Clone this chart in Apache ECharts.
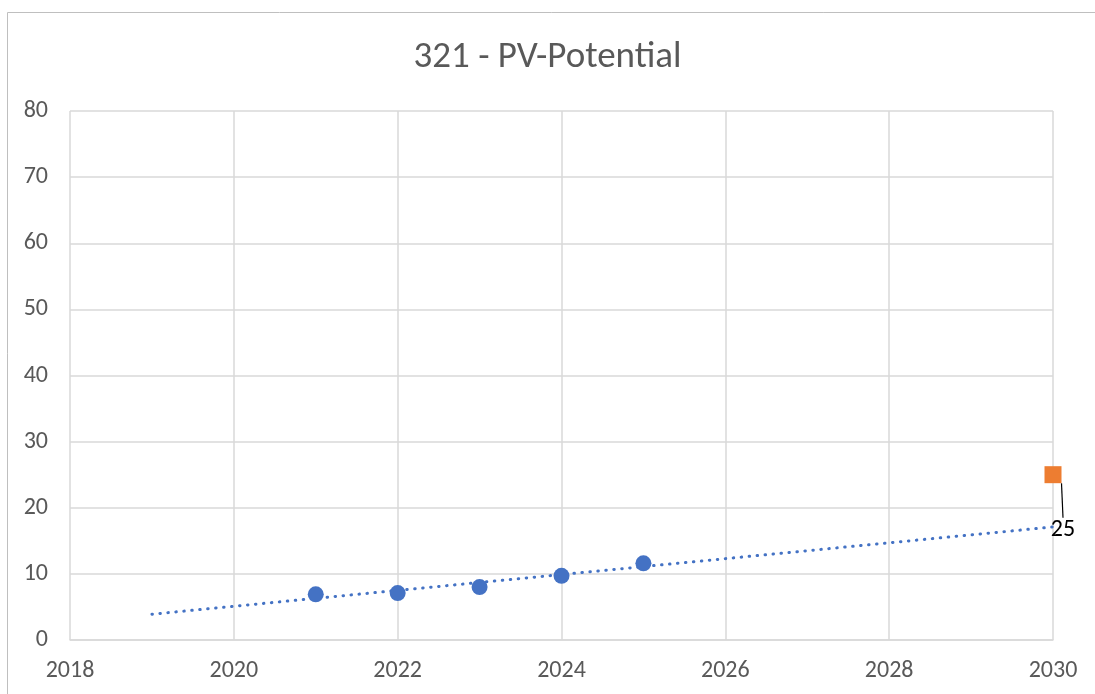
<!DOCTYPE html>
<html>
<head>
<meta charset="utf-8">
<script src="https://cdn.jsdelivr.net/npm/echarts@6/dist/echarts.min.js"></script>
<style>
  html, body { margin: 0; padding: 0; background: #fff; }
  #main { width: 1095px; height: 694px; }
</style>
</head>
<body>
<div id="main"></div>
<script>
// values
const years = [2021, 2022, 2023, 2024, 2025];
const potential = [6.9, 7.1, 8.0, 9.7, 11.6];
const targetYear = [2030];
const targetValue = [25];
// trend line end points
const trendYears = [2019, 2030];
const trendValues = [3.9, 17.1];

const font = 'Calibri, Carlito, "Open Sans", sans-serif';

const chart = echarts.init(document.getElementById('main'));

const option = {
  animation: false,
  textStyle: { fontFamily: font },
  title: {
    text: '321 - PV-Potential',
    left: 'center',
    top: 34,
    textStyle: { fontSize: 37, fontWeight: 'normal', color: '#595959', fontFamily: font }
  },
  graphic: [{
    type: 'rect',
    shape: { x: 7.5, y: 12.5, width: 1100, height: 700 },
    style: { fill: 'none', stroke: '#bfbfbf', lineWidth: 1 },
    silent: true
  }],
  grid: { left: 70, right: 42, top: 111, bottom: 54, containLabel: false },
  xAxis: {
    type: 'value',
    min: 2018,
    max: 2030,
    interval: 2,
    axisLine: { show: true, lineStyle: { color: '#d9d9d9', width: 1.5 } },
    axisTick: { show: false },
    splitLine: { show: true, lineStyle: { color: '#d9d9d9', width: 1.5 } },
    axisLabel: { fontSize: 24, color: '#595959', margin: 19, fontFamily: font, formatter: v => String(v) }
  },
  yAxis: {
    type: 'value',
    min: 0,
    max: 80,
    interval: 10,
    axisLine: { show: false },
    axisTick: { show: false },
    splitLine: { show: true, lineStyle: { color: '#d9d9d9', width: 1.5 } },
    axisLabel: { fontSize: 24, color: '#595959', margin: 22, fontFamily: font }
  },
  series: [
    {
      type: 'line',
      data: trendYears.map((y, i) => [y, trendValues[i]]),
      symbol: 'none',
      lineStyle: { color: '#4472c4', width: 3, type: [0.5, 7.5], cap: 'round' },
      z: 2
    },
    {
      type: 'scatter',
      data: years.map((y, i) => [y, potential[i]]),
      symbol: 'circle',
      symbolSize: 16,
      itemStyle: { color: '#4472c4', opacity: 1 },
      z: 3
    },
    {
      type: 'scatter',
      data: targetYear.map((y, i) => [y, targetValue[i]]),
      symbol: 'rect',
      symbolSize: 17,
      itemStyle: { color: '#ed7d31', opacity: 1 },
      label: {
        show: true,
        position: 'inside',
        formatter: p => p.value[1],
        fontSize: 24,
        color: '#000',
        fontFamily: font
      },
      labelLayout: { dx: 10, dy: 55 },
      labelLine: { show: true, lineStyle: { color: '#000', width: 1.2 } },
      z: 4
    }
  ]
};

chart.setOption(option);
</script>
</body>
</html>
